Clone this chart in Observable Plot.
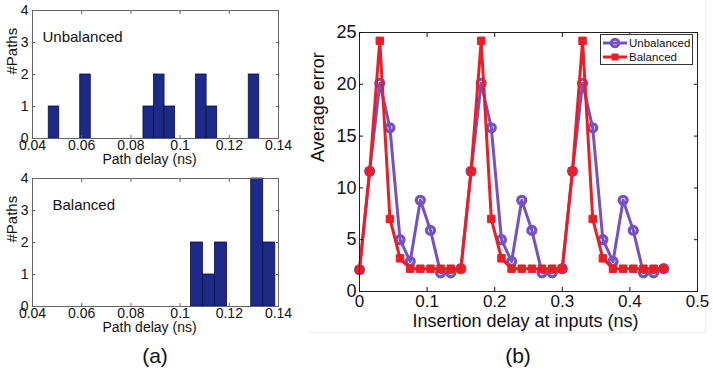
<!DOCTYPE html>
<html><head><meta charset="utf-8">
<script src="https://cdn.jsdelivr.net/npm/d3@7"></script>
<script src="https://cdn.jsdelivr.net/npm/@observablehq/plot@0.6"></script>
<style>
body{margin:0;background:#fff;font-family:"Liberation Sans",Arial,sans-serif;}
#wrap{position:relative;width:713px;height:372px;overflow:hidden;background:#fff;}
.panel{position:absolute;}
.panel svg{overflow:visible;}
.cap{position:absolute;font-size:21px;width:60px;text-align:center;color:#111;}
#frameb{position:absolute;left:308px;top:-1px;width:397px;height:333px;border-right:1px solid #eeeeee;border-bottom:1px solid #eeeeee;}
#legend{position:absolute;left:600px;top:34px;}
</style></head><body>
<div id="wrap">
  <div id="frameb"></div>
  <div class="panel" id="histTop" style="left:0;top:0;width:300px;height:170px"></div>
  <div class="panel" id="histBottom" style="left:0;top:168px;width:300px;height:170px"></div>
  <div class="panel" id="errChart" style="left:300px;top:0;width:413px;height:372px"></div>
  <div id="legend"></div>
  <div class="cap" style="left:125px;top:344px">(a)</div>
  <div class="cap" style="left:488px;top:344px">(b)</div>
</div>
<script>
// ---- data ----
const unbalancedBinStart = [0.0466, 0.0594, 0.0851, 0.0894, 0.0937, 0.1065, 0.1108, 0.1279];
const unbalancedCounts   = [1, 2, 1, 2, 1, 2, 1, 2];
const unbalancedBinWidth = 0.00428;
const balancedBinStart   = [0.1044, 0.1093, 0.1142, 0.1289, 0.1338];
const balancedCounts     = [2, 1, 2, 4, 2];
const balancedBinWidth   = 0.0049;
const histXTicks = [0.04, 0.06, 0.08, 0.1, 0.12, 0.14];
const histYTicks = [0, 1, 2, 3, 4];

const insertionDelay = [0, 0.015, 0.03, 0.045, 0.06, 0.075, 0.09, 0.105, 0.12, 0.135,
  0.15, 0.165, 0.18, 0.195, 0.21, 0.225, 0.24, 0.255, 0.27, 0.285,
  0.3, 0.315, 0.33, 0.345, 0.36, 0.375, 0.39, 0.405, 0.42, 0.435, 0.45];
const unbalancedError = [2.1, 11.6, 20.1, 15.8, 5.0, 2.9, 8.8, 5.9, 1.8, 1.8,
  2.2, 11.6, 20.1, 15.8, 5.0, 2.9, 8.8, 5.9, 1.8, 1.8,
  2.2, 11.6, 20.1, 15.8, 5.0, 2.9, 8.8, 5.9, 1.8, 1.8, 2.2];
const balancedError = [2.1, 11.6, 24.2, 7.0, 3.2, 2.2, 2.2, 2.2, 2.2, 2.2,
  2.2, 11.6, 24.2, 7.0, 3.2, 2.2, 2.2, 2.2, 2.2, 2.2,
  2.2, 11.6, 24.2, 7.0, 3.2, 2.2, 2.2, 2.2, 2.2, 2.2, 2.2];
const errXTicks = [0, 0.1, 0.2, 0.3, 0.4, 0.5];
const errYTicks = [0, 5, 10, 15, 20, 25];
const seriesNames = ["Unbalanced", "Balanced"];
const seriesColors = ["#7452c4", "#ee1c25"];

const FONT = '"Liberation Sans", Arial, sans-serif';
const fmt = d3.format("~g");
const blank = () => "";

function hist(starts, counts, binW, label, labelDx) {
  const bins = starts.map((s, i) => ({x1: s, x2: s + binW, n: counts[i]}));
  return Plot.plot({
    width: 300, height: 170,
    marginLeft: 32, marginRight: 22, marginTop: 10, marginBottom: 32,
    x: {domain: [0.04, 0.14]}, y: {domain: [0, 4]},
    style: {fontFamily: FONT, fontSize: "14px", color: "#111", background: "transparent"},
    marks: [
      Plot.rect(bins, {x1: "x1", x2: "x2", y1: 0, y2: "n", fill: "#1e2a8a", stroke: "#0b1040", strokeWidth: 0.8}),
      Plot.frame({stroke: "#666"}),
      Plot.axisX({ticks: histXTicks, anchor: "bottom", tickSize: -3, tickFormat: blank, label: null, stroke: "#666"}),
      Plot.axisX({ticks: histXTicks, anchor: "top", tickSize: -3, tickFormat: blank, label: null, stroke: "#666"}),
      Plot.axisY({ticks: histYTicks, anchor: "left", tickSize: -3, tickFormat: blank, label: null, stroke: "#666"}),
      Plot.axisY({ticks: histYTicks, anchor: "right", tickSize: -3, tickFormat: blank, label: null, stroke: "#666"}),
      Plot.text(histXTicks, {x: d => d, frameAnchor: "bottom", lineAnchor: "top", dy: 2, fontSize: 14, text: fmt}),
      Plot.text(histYTicks, {y: d => d, frameAnchor: "left", textAnchor: "end", dx: -4, fontSize: 14, text: fmt}),
      Plot.text([label], {frameAnchor: "top-left", textAnchor: "start", dx: labelDx, dy: 21, fontSize: 15, text: d => d}),
      Plot.text(["Path delay (ns)"], {frameAnchor: "bottom", dy: 25, dx: -6, fontSize: 14, text: d => d}),
      Plot.text(["#Paths"], {frameAnchor: "left", rotate: -90, dx: -20, fontSize: 15, text: d => d})
    ]
  });
}

document.getElementById("histTop").append(hist(unbalancedBinStart, unbalancedCounts, unbalancedBinWidth, "Unbalanced", 10));
document.getElementById("histBottom").append(hist(balancedBinStart, balancedCounts, balancedBinWidth, "Balanced", 20));

const pts = insertionDelay.map((x, i) => ({x, u: unbalancedError[i], b: balancedError[i]}));
const err = Plot.plot({
  width: 413, height: 372,
  marginLeft: 59, marginRight: 16, marginTop: 32, marginBottom: 81,
  x: {domain: [0, 0.5]}, y: {domain: [0, 25]},
  style: {fontFamily: FONT, fontSize: "17px", color: "#111", background: "transparent"},
  marks: [
    Plot.line(pts, {x: "x", y: "u", stroke: seriesColors[0], strokeWidth: 3}),
    Plot.dot(pts, {x: "x", y: "u", r: 4, stroke: seriesColors[0], strokeWidth: 3.2, fill: "none"}),
    Plot.line(pts, {x: "x", y: "b", stroke: seriesColors[1], strokeWidth: 3}),
    Plot.dot(pts, {x: "x", y: "b", r: 4.2, symbol: "square", fill: seriesColors[1], stroke: seriesColors[1], strokeWidth: 1}),
    Plot.frame({stroke: "#222"}),
    Plot.axisX({ticks: errXTicks, anchor: "bottom", tickSize: -4, tickFormat: blank, label: null}),
    Plot.axisX({ticks: errXTicks, anchor: "top", tickSize: -4, tickFormat: blank, label: null}),
    Plot.axisY({ticks: errYTicks, anchor: "left", tickSize: -4, tickFormat: blank, label: null}),
    Plot.axisY({ticks: errYTicks, anchor: "right", tickSize: -4, tickFormat: blank, label: null}),
    Plot.text(errXTicks, {x: d => d, frameAnchor: "bottom", lineAnchor: "top", dy: 3, fontSize: 17, text: fmt}),
    Plot.text(errYTicks, {y: d => d, frameAnchor: "left", textAnchor: "end", dx: -3, fontSize: 18, text: fmt}),
    Plot.text(["Insertion delay at inputs (ns)"], {frameAnchor: "bottom", dy: 35, dx: -3, fontSize: 18, text: d => d}),
    Plot.text(["Average error"], {frameAnchor: "left", rotate: -90, dx: -41, fontSize: 18, text: d => d})
  ]
});
document.getElementById("errChart").append(err);

// legend
const lg = d3.select("#legend").append("svg").attr("width", 94).attr("height", 32)
  .style("font-family", FONT).style("font-size", "11.5px");
lg.append("rect").attr("x", 0.5).attr("y", 0.5).attr("width", 92).attr("height", 30)
  .attr("fill", "#fff").attr("stroke", "#333");
seriesNames.forEach((name, i) => {
  const y = 9 + i * 14;
  lg.append("line").attr("x1", 3).attr("x2", 27).attr("y1", y).attr("y2", y)
    .attr("stroke", seriesColors[i]).attr("stroke-width", 3);
  if (i === 0) lg.append("circle").attr("cx", 15).attr("cy", y).attr("r", 3.8)
    .attr("fill", "none").attr("stroke", seriesColors[i]).attr("stroke-width", 3);
  else lg.append("rect").attr("x", 11.5).attr("y", y - 3.5).attr("width", 7).attr("height", 7)
    .attr("fill", seriesColors[i]);
  lg.append("text").attr("x", 29).attr("y", y + 4).text(name).attr("fill", "#111");
});
</script>
</body></html>
